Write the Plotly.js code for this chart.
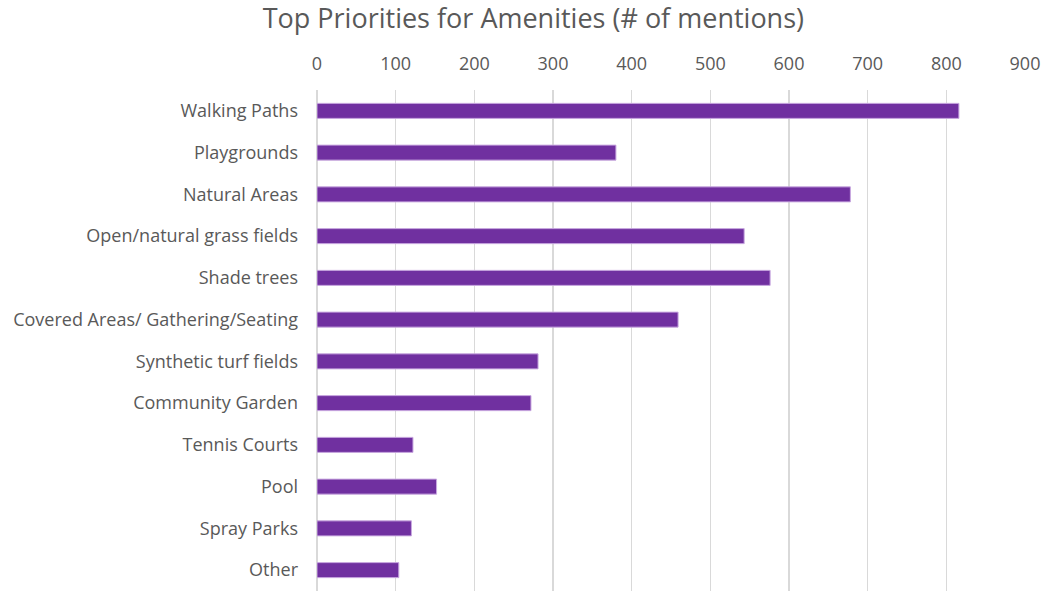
<!DOCTYPE html>
<html>
<head>
<meta charset="utf-8">
<script src="https://cdn.plot.ly/plotly-3.0.1.min.js"></script>
<style>html,body{margin:0;padding:0;background:#fff;}#chart{width:1052px;height:591px;}</style>
</head>
<body>
<div id="chart"></div>
<script>
const categories = ["Walking Paths","Playgrounds","Natural Areas","Open/natural grass fields","Shade trees","Covered Areas/ Gathering/Seating","Synthetic turf fields","Community Garden","Tennis Courts","Pool","Spray Parks","Other"];
const mentions = [816, 380, 678, 543, 576, 459, 281, 272, 122, 152, 120, 104];
const xTicks = [0,100,200,300,400,500,600,700,800,900];

const trace = {
  type: "bar",
  orientation: "h",
  y: categories,
  x: mentions,
  marker: {color: "#7030a0", line: {color: "#c9a9e0", width: 1}},
  hoverinfo: "x+y"
};

const layout = {
  width: 1052, height: 591,
  margin: {l: 317, r: 27, t: 90, b: 0},
  paper_bgcolor: "#fff", plot_bgcolor: "#fff",
  font: {family: "Open Sans, sans-serif", color: "#595959", size: 17},
  title: {text: "Top Priorities for Amenities (# of mentions)", x: 0.507, xanchor: "center", y: 0.968, yanchor: "middle", font: {size: 27, color: "#595959", family: "Open Sans, sans-serif"}},
  bargap: 0.64,
  showlegend: false,
  xaxis: {
    side: "top", range: [0, 900], tickvals: xTicks, ticktext: xTicks.map(String),
    showgrid: true, gridcolor: "#d9d9d9", gridwidth: 1.5, zeroline: true, zerolinecolor: "#d9d9d9", zerolinewidth: 1.5,
    showline: false, ticks: "", ticklabelstandoff: 15, tickfont: {size: 18, color: "#595959"}, fixedrange: true
  },
  yaxis: {
    autorange: "reversed", showgrid: false, zeroline: false, showline: false, ticks: "",
    ticklabelstandoff: 18, tickfont: {size: 18, color: "#595959"}, fixedrange: true
  }
};

Plotly.newPlot("chart", [trace], layout, {displayModeBar: false, staticPlot: true});
</script>
</body>
</html>
